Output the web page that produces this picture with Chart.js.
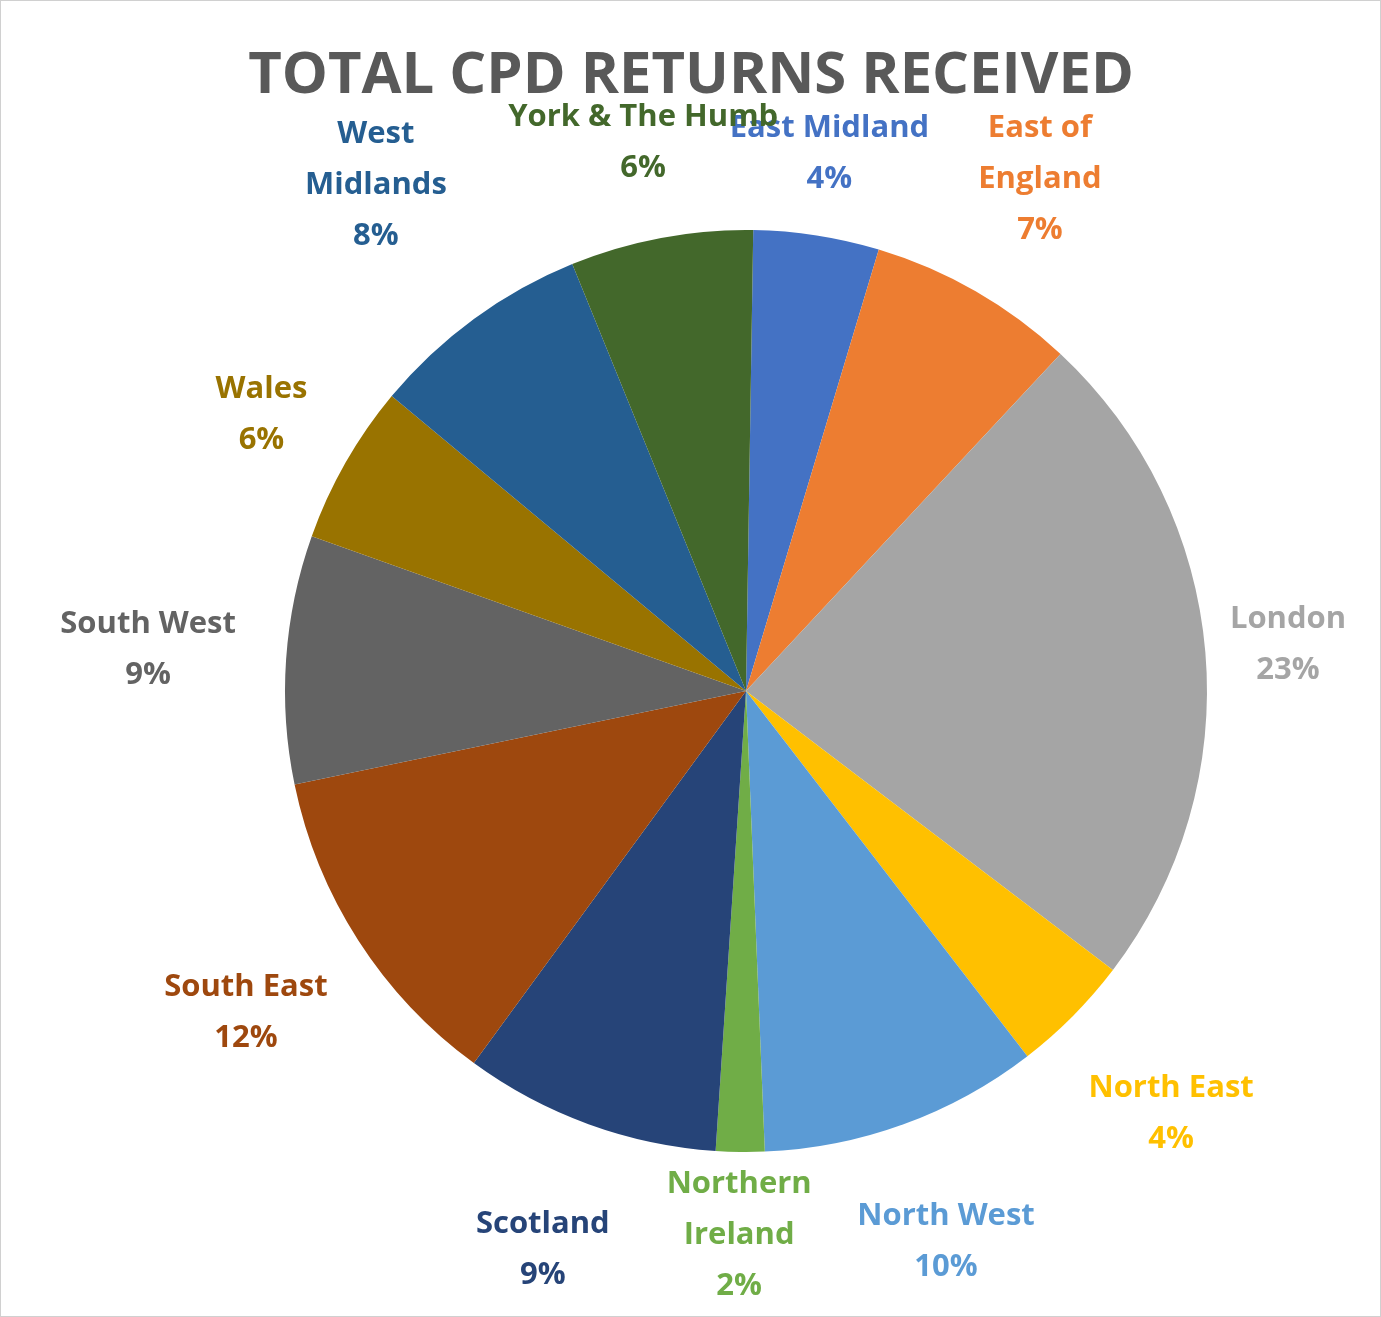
<!DOCTYPE html>
<html>
<head>
<meta charset="utf-8">
<script src="https://cdn.jsdelivr.net/npm/chart.js@4"></script>
<style>
  html, body { margin: 0; padding: 0; background: #fff; }
  #wrap { width: 1379px; height: 1315px; border: 1px solid #d0d0d0; }
</style>
</head>
<body>
<div id="wrap"><canvas id="pie" width="1379" height="1315"></canvas></div>
<script>
const regions = ['East Midland', 'East of England', 'London', 'North East', 'North West', 'Northern Ireland',
  'Scotland', 'South East', 'South West', 'Wales', 'West Midlands', 'York & The Humb'];
const labelLines = [['East Midland'], ['East of', 'England'], ['London'], ['North East'], ['North West'],
  ['Northern', 'Ireland'], ['Scotland'], ['South East'], ['South West'], ['Wales'], ['West', 'Midlands'], ['York & The Humb']];
const returnsShare = [4.4, 7.3, 23.4, 4.2, 9.8, 1.7, 9.0, 11.7, 8.7, 5.6, 7.8, 6.4];
const colors = ['#4472C4', '#ED7D31', '#A5A5A5', '#FFC000', '#5B9BD5', '#70AD47',
  '#264478', '#9E480E', '#636363', '#997300', '#255E91', '#43682B'];
const labelDist = [1.18, 1.28, 1.18, 1.30, 1.27, 1.18, 1.29, 1.29, 1.30, 1.21, 1.36, 1.21];

const pieLabels = {
  id: 'pieLabels',
  afterDraw(chart) {
    const ctx = chart.ctx;
    const meta = chart.getDatasetMeta(0);
    const total = returnsShare.reduce((s, v) => s + v, 0);
    ctx.save();
    ctx.textAlign = 'center';
    ctx.textBaseline = 'middle';
    ctx.fillStyle = '#595959';
    ctx.font = 'bold 58px "Open Sans", "Noto Sans", sans-serif';
    ctx.fillText('TOTAL CPD RETURNS RECEIVED', 690, 75);
    ctx.font = 'bold 31px "Open Sans", "Noto Sans", sans-serif';
    meta.data.forEach((arc, i) => {
      const mid = (arc.startAngle + arc.endAngle) / 2;
      const r = arc.outerRadius * labelDist[i];
      const x = arc.x + Math.cos(mid) * r;
      const y = arc.y + Math.sin(mid) * r;
      const lines = labelLines[i].concat([Math.round(returnsShare[i] / total * 100) + '%']);
      const lh = 51;
      ctx.fillStyle = colors[i];
      lines.forEach((t, j) => ctx.fillText(t, x, y + (j - (lines.length - 1) / 2) * lh));
    });
    ctx.restore();
  }
};

new Chart(document.getElementById('pie'), {
  type: 'pie',
  data: {
    labels: regions,
    datasets: [{ data: returnsShare, backgroundColor: colors, borderWidth: 0 }]
  },
  options: {
    responsive: false,
    animation: false,
    rotation: 0.9,
    layout: { padding: { top: 229, bottom: 164, left: 284, right: 173 } },
    plugins: { legend: { display: false }, tooltip: { enabled: false } }
  },
  plugins: [pieLabels]
});
</script>
</body>
</html>
